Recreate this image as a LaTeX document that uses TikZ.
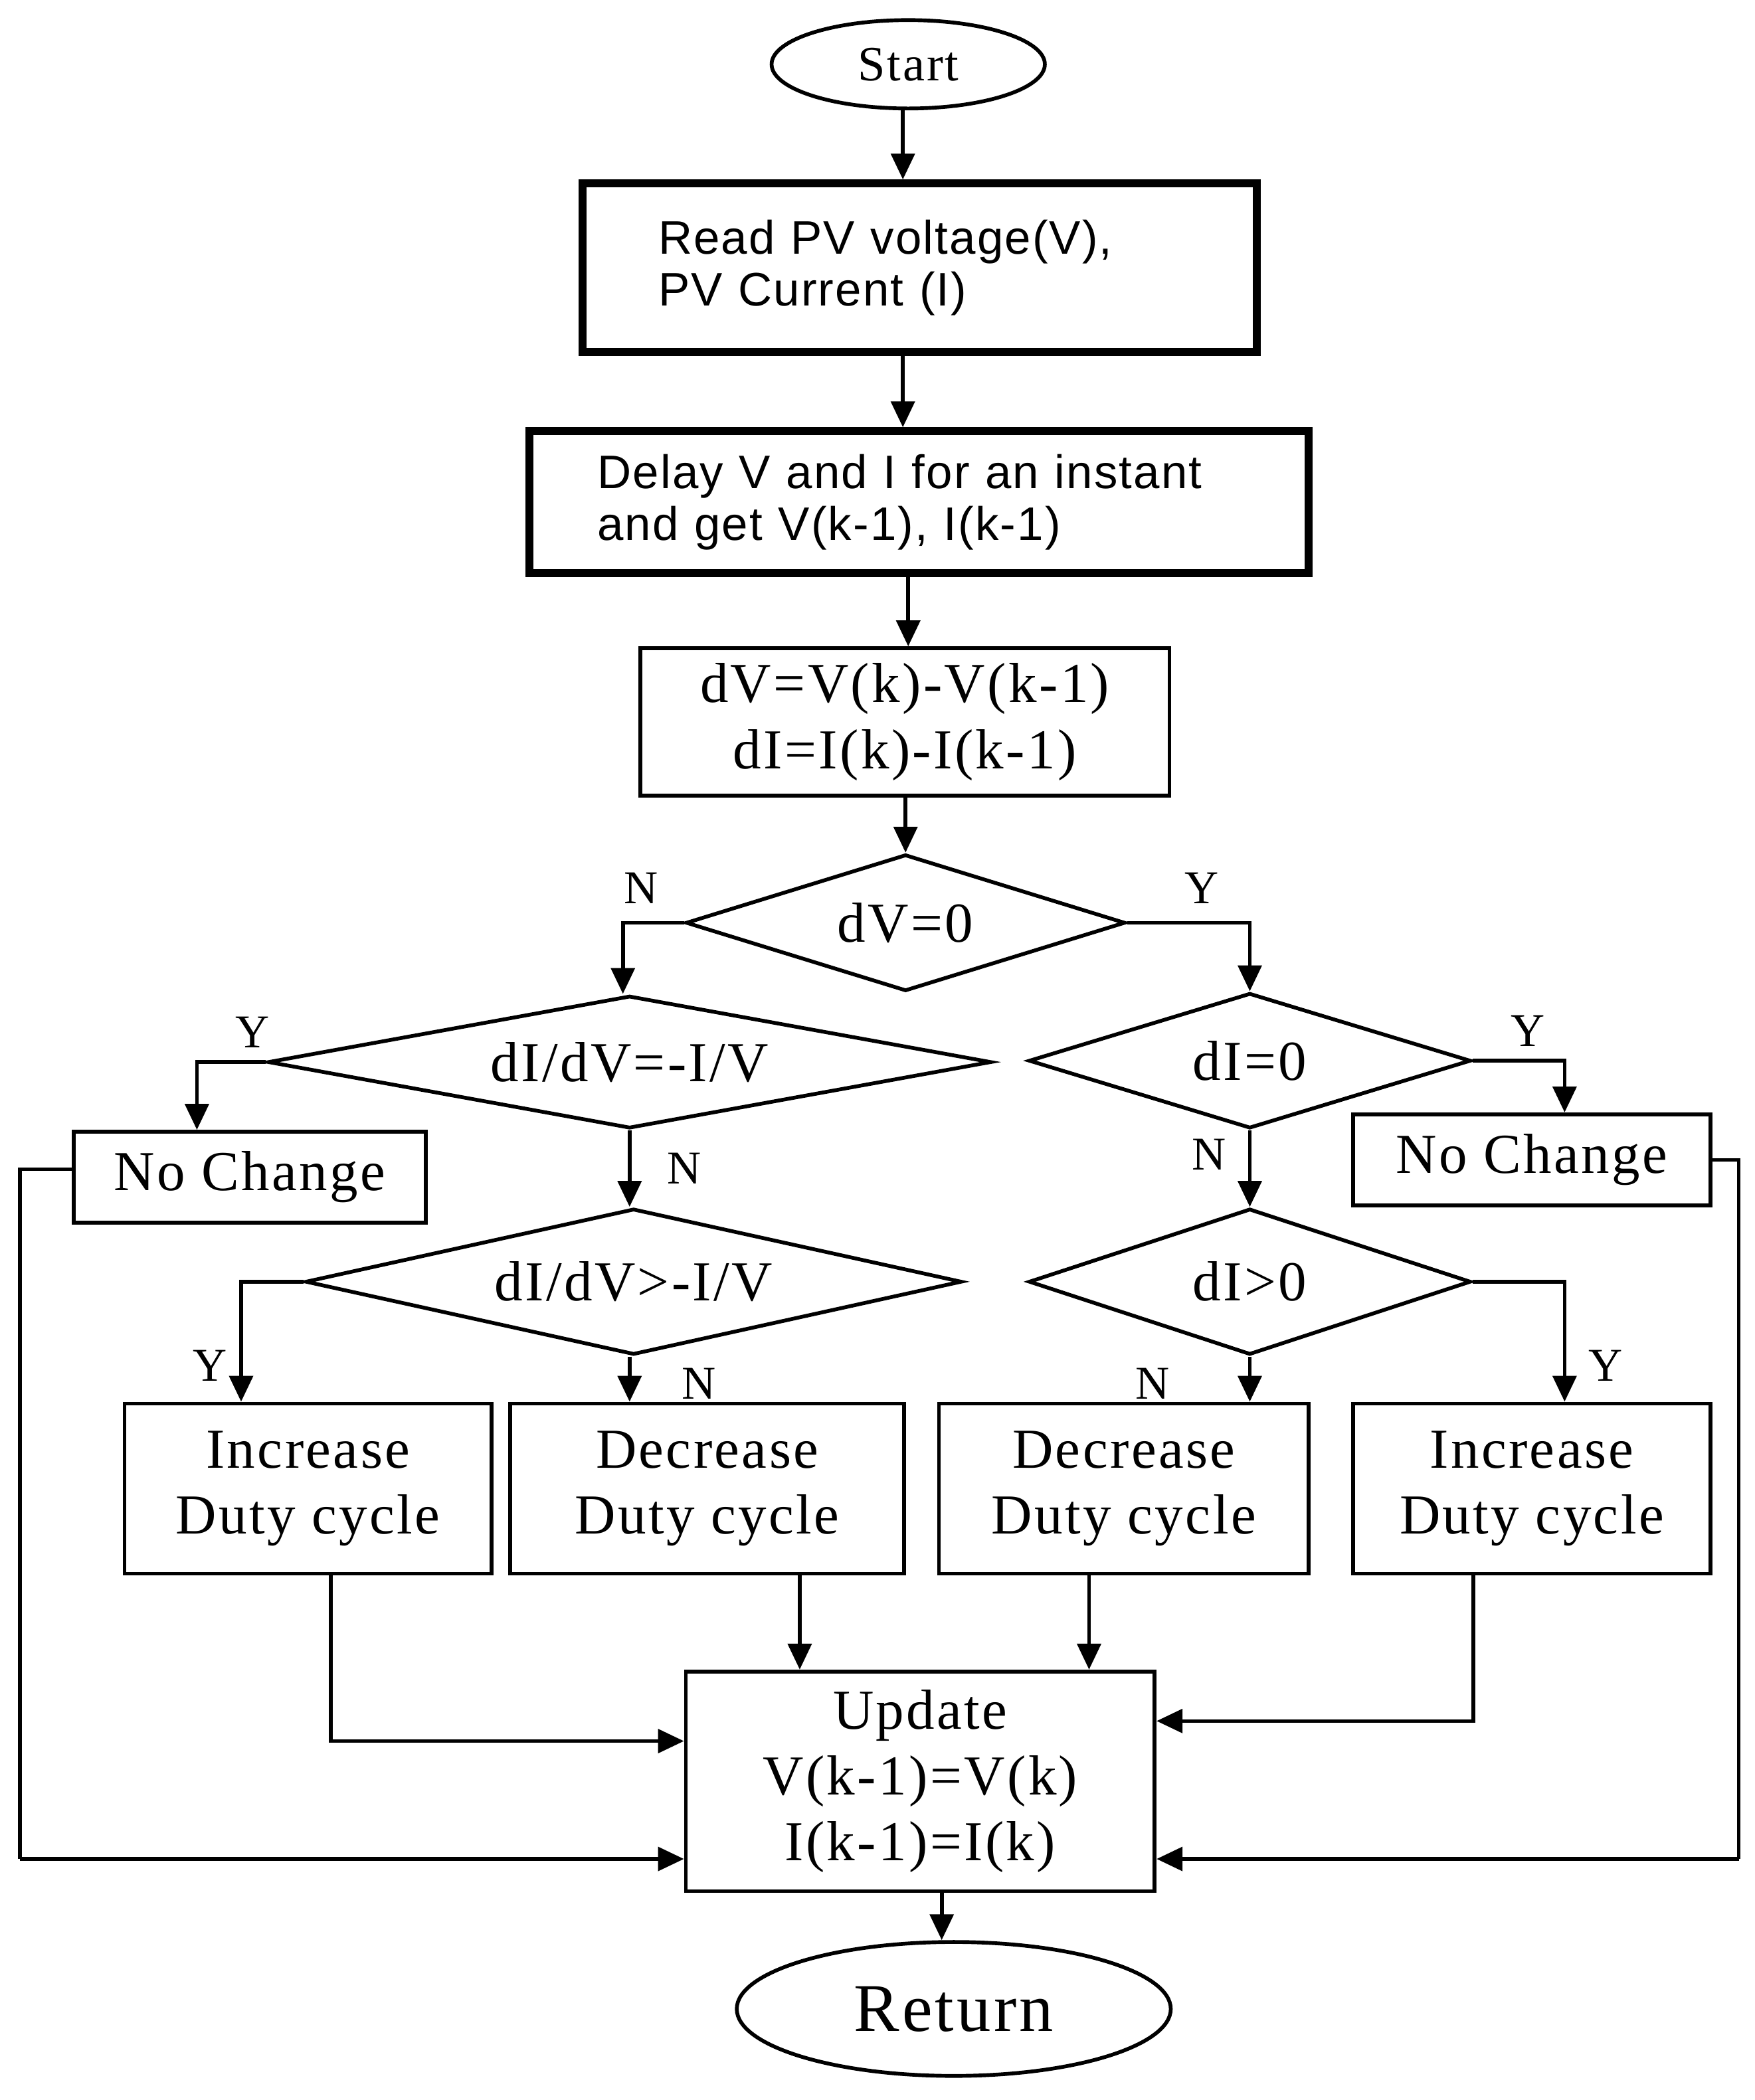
\documentclass[tikz,border=0pt]{standalone}
\usepackage{fontspec}
\setmainfont{Liberation Serif}[LetterSpace=4]
\newfontfamily\sansf{Liberation Sans}[LetterSpace=3]
\usetikzlibrary{shapes.geometric,arrows.meta}
\begin{document}
\begin{tikzpicture}[x=0.02cm,y=-0.02cm,
  ln/.style={line width=1.6pt},
  ar/.style={ln,-{Triangle[length=11pt,width=10pt]}},
  box/.style={draw,line width=1.6pt,minimum width=#1,align=center,font=\fontsize{24}{28}\selectfont},
  tbox/.style={draw,line width=3.4pt,align=left,font=\sansf\fontsize{20}{22}\selectfont},
  dia/.style={draw,line width=1.6pt,diamond,aspect=#1,inner sep=0pt,font=\fontsize{24}{28}\selectfont},
  lab/.style={font=\fontsize{20}{22}\selectfont}]
\useasboundingbox (0,0) rectangle (1310,1568);
\node[draw,ln,ellipse,minimum width=204*0.02cm,minimum height=66*0.02cm,font=\fontsize{21}{24}\selectfont] (start) at (678,48) {Start};
\node[tbox,minimum width=503*0.02cm,minimum height=126*0.02cm,text width=390*0.02cm] (read) at (686.5,200) {Read PV voltage(V),\\PV Current (I)};
\node[tbox,minimum width=582*0.02cm,minimum height=106*0.02cm,text width=480*0.02cm] (delay) at (686,375) {Delay V and I for an instant\\and get V(k-1), I(k-1)};
\node[box=395*0.02cm,minimum height=110*0.02cm] (dvb) at (675.5,539) {dV=V(k)-V(k-1)\\dI=I(k)-I(k-1)};
\node[dia=3.2,minimum width=328*0.02cm,minimum height=102*0.02cm] (d1) at (676,689) {dV=0};
\node[dia=5.4,minimum width=540*0.02cm,minimum height=99*0.02cm] (d2) at (470,793) {dI/dV=-I/V};
\node[dia=3.3,minimum width=330*0.02cm,minimum height=101*0.02cm] (d3) at (933,792) {dI=0};
\node[box=263*0.02cm,minimum height=68*0.02cm] (nc1) at (186.5,879) {No Change};
\node[box=267*0.02cm,minimum height=68*0.02cm] (nc2) at (1143.5,866) {No Change};
\node[dia=4.5,minimum width=490*0.02cm,minimum height=109*0.02cm] (d4) at (473,957) {dI/dV>-I/V};
\node[dia=3.0,minimum width=330*0.02cm,minimum height=109*0.02cm] (d5) at (933,957) {dI>0};
\node[box=274*0.02cm,minimum height=127*0.02cm] (b1) at (230,1111.5) {Increase\\Duty cycle};
\node[box=294*0.02cm,minimum height=127*0.02cm] (b2) at (528,1111.5) {Decrease\\Duty cycle};
\node[box=276*0.02cm,minimum height=127*0.02cm] (b3) at (839,1111.5) {Decrease\\Duty cycle};
\node[box=267*0.02cm,minimum height=127*0.02cm] (b4) at (1143.5,1111.5) {Increase\\Duty cycle};
\node[box=350*0.02cm,minimum height=164*0.02cm] (up) at (687,1330) {Update\\V(k-1)=V(k)\\I(k-1)=I(k)};
\node[draw,ln,ellipse,minimum width=324*0.02cm,minimum height=100*0.02cm,font=\fontsize{29}{32}\selectfont] (ret) at (712,1500) {Return};
\coordinate (c1) at (15,1388);
\coordinate (c2) at (1298,1388);
\draw[ar] (start.south -| 674,0) -- (read.north -| 674,0);
\draw[ar] (read.south -| 674,0) -- (delay.north -| 674,0);
\draw[ar] (delay.south -| 678,0) -- (dvb.north -| 678,0);
\draw[ar] (dvb.south -| 676,0) -- (d1.north);
\draw[ar] (d1.west) -| (d2.north -| 465,0) node[pos=0.35,above,lab,yshift=4pt] {N};
\draw[ar] (d1.east) -| (d3.north) node[pos=0.4,above,lab,yshift=4pt,xshift=-10pt] {Y};
\draw[ar] (d2.west) -| (nc1.north -| 147,0) node[pos=0.1,above,lab,yshift=2pt] {Y};
\draw[ar] (d2.south) -- (d4.north -| 470,0) node[midway,right,lab,xshift=12pt] {N};
\draw[ar] (d3.east) -| (nc2.north -| 1168,0) node[pos=0.3,above,lab,yshift=2pt] {Y};
\draw[ar] (d3.south) -- (d5.north) node[midway,left,lab,xshift=-6pt,yshift=6pt] {N};
\draw[ar] (d4.west) -| (b1.north -| 180,0) node[pos=0.85,left,lab,xshift=-2pt] {Y};
\draw[ar] (d4.south -| 470,0) -- (b2.north -| 470,0) node[pos=0.6,right,lab,xshift=18pt] {N};
\draw[ar] (d5.south) -- (b3.north -| 933,0) node[pos=0.6,left,lab,xshift=-30pt] {N};
\draw[ar] (d5.east) -| (b4.north -| 1168,0) node[pos=0.85,right,lab,xshift=6pt] {Y};
\draw[ar] (b1.south -| 247,0) |- (up.west |- 0,1300);
\draw[ar] (b2.south -| 597,0) -- (up.north -| 597,0);
\draw[ar] (b3.south -| 813,0) -- (up.north -| 813,0);
\draw[ar] (b4.south -| 1100,0) |- (up.east |- 0,1285);
\draw[ln] (nc1.west |- 0,873) -- (15,873) -- (c1);
\draw[ar] (c1) -- (up.west |- c1);
\draw[ln] (nc2.east |- 0,866) -- (1298,866) -- (c2);
\draw[ar] (c2) -- (up.east |- c2);
\draw[ar] (up.south -| 703,0) -- (ret.north -| 703,0);
\end{tikzpicture}
\end{document}
